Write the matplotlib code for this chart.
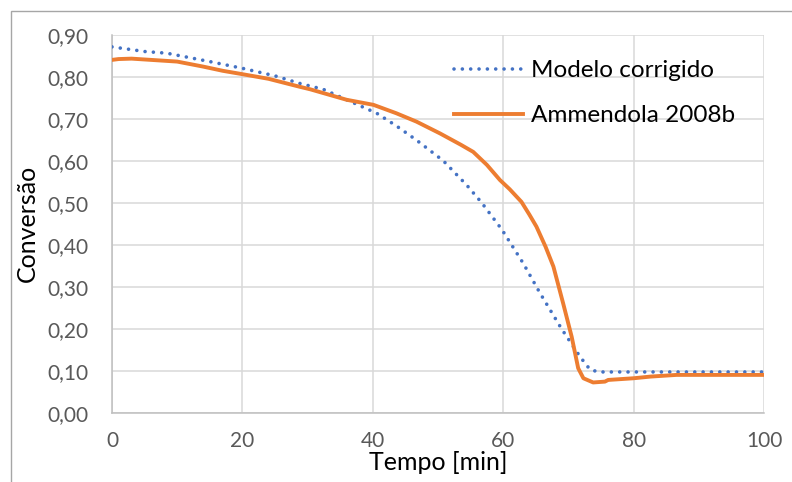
import matplotlib.pyplot as plt
from matplotlib.patches import Rectangle

plt.rcParams['font.family'] = ['Lato', 'DejaVu Sans']

# Modelo corrigido
t_modelo = [0, 5, 8.4, 15, 20, 25, 28.8, 32.4, 37, 40.6, 43.6, 46.7, 50.8, 54.4,
            56.7, 59.8, 63.1, 65.6, 68.9, 71.8, 73.3, 74.6, 80, 90, 100]
x_modelo = [0.871, 0.860, 0.856, 0.836, 0.820, 0.802, 0.784, 0.770, 0.738, 0.713,
            0.683, 0.649, 0.600, 0.542, 0.500, 0.436, 0.355, 0.286, 0.201, 0.133,
            0.103, 0.097, 0.097, 0.097, 0.097]

# Ammendola 2008b
t_exp = [0, 1, 3, 6, 10, 14, 17, 20, 24, 28.8, 30.4, 36, 40.1, 43.6, 46.7, 50.3,
         53.5, 55.4, 57.5, 59.5, 61.0, 62.8, 64.0, 65.1, 66.5, 67.7, 69.2, 70.5,
         71.5, 72.3, 73.8, 75.6, 76.1, 80, 82.6, 86.6, 100]
x_exp = [0.840, 0.842, 0.843, 0.840, 0.836, 0.824, 0.814, 0.806, 0.795, 0.776,
         0.770, 0.745, 0.733, 0.713, 0.693, 0.665, 0.638, 0.621, 0.590, 0.554,
         0.532, 0.502, 0.472, 0.443, 0.395, 0.348, 0.260, 0.181, 0.106, 0.082,
         0.072, 0.074, 0.078, 0.082, 0.086, 0.090, 0.090]

x_ticks = [0, 20, 40, 60, 80, 100]
y_ticks = [0.0, 0.1, 0.2, 0.3, 0.4, 0.5, 0.6, 0.7, 0.8, 0.9]

fig = plt.figure(figsize=(7.92, 4.82), dpi=100)
ax = fig.add_axes([112 / 792, 1 - 412.7 / 482, (764 - 112) / 792, (412.7 - 34.7) / 482])

ax.plot(t_modelo, x_modelo, color='#4472C4', lw=2.6, linestyle=(0, (0.01, 2.3)),
        dash_capstyle='round', label='Modelo corrigido', zorder=3)
ax.plot(t_exp, x_exp, color='#ED7D31', lw=2.8, label='Ammendola 2008b', zorder=4)

ax.set_xlim(0, 100)
ax.set_ylim(0, 0.9)
ax.set_xticks(x_ticks)
ax.set_yticks(y_ticks)
ax.set_yticklabels([f'{v:.2f}'.replace('.', ',') for v in y_ticks])
ax.tick_params(length=0, labelsize=15, colors='#595959', pad=13)
ax.tick_params(axis='y', pad=17)
ax.grid(True, color='#D9D9D9', lw=1.1)
ax.set_axisbelow(True)
for s in ['top', 'right']:
    ax.spines[s].set_visible(False)
for s in ['left', 'bottom']:
    ax.spines[s].set_color('#BFBFBF')
    ax.spines[s].set_linewidth(1.1)

ax.set_xlabel('Tempo [min]', fontsize=18, labelpad=0)
ax.set_ylabel('Conversão', fontsize=18, labelpad=6)

ax.legend(loc='upper left', bbox_to_anchor=(0.524, 0.933), frameon=False,
          fontsize=17.5, handlelength=2.84, handletextpad=0.33, labelspacing=1.0,
          borderpad=0, borderaxespad=0)

fig.patches.append(Rectangle((11 / 792, -0.1), 1.2, (482 - 11) / 482 + 0.1,
                             transform=fig.transFigure, fill=False,
                             edgecolor='#A6A6A6', lw=1.0))

fig.savefig('out.png', dpi=100)
